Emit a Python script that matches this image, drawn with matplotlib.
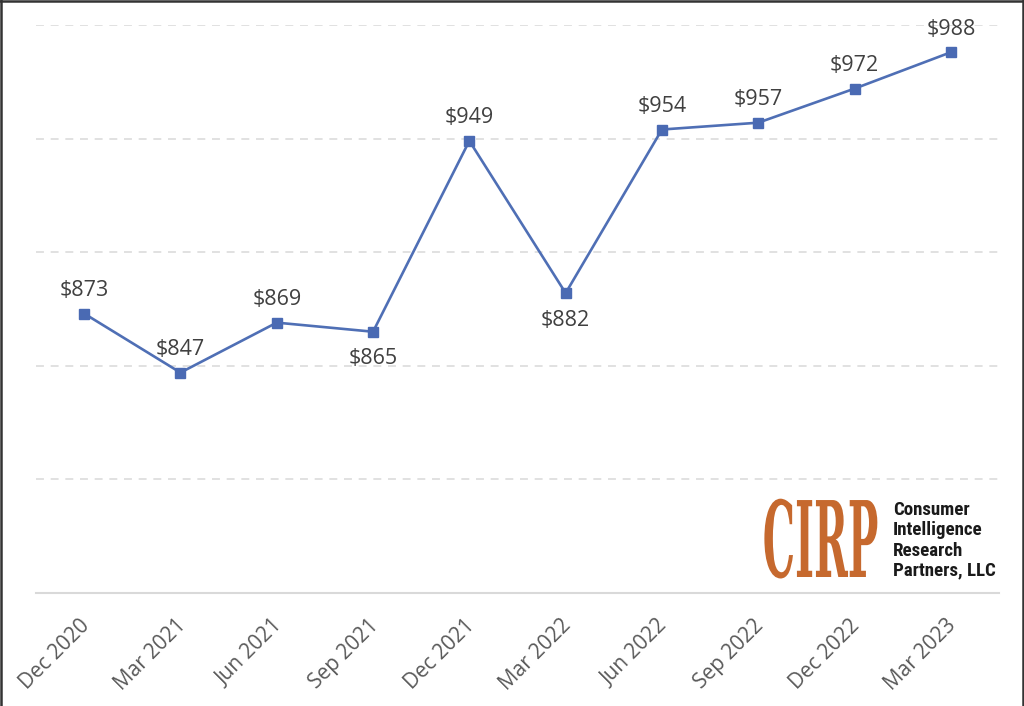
import matplotlib
matplotlib.use("Agg")
import matplotlib.pyplot as plt
from matplotlib.patheffects import AbstractPathEffect
from matplotlib.transforms import Affine2D, ScaledTranslation
from matplotlib.lines import Line2D

periods = ["Dec 2020", "Mar 2021", "Jun 2021", "Sep 2021", "Dec 2021",
           "Mar 2022", "Jun 2022", "Sep 2022", "Dec 2022", "Mar 2023"]
values = [873, 847, 869, 865, 949, 882, 954, 957, 972, 988]
label_below = [False, False, False, True, False, True, False, False, False, False]
grid_levels = [800, 850, 900, 950, 1000]
logo_lines = ["Consumer", "Intelligence", "Research", "Partners, LLC"]


class HStretchRight(AbstractPathEffect):
    """Squeeze glyphs horizontally, keeping their right edge fixed."""
    def __init__(self, sx):
        super().__init__()
        self.sx = sx

    def draw_path(self, renderer, gc, tpath, affine, rgbFace=None):
        xr = tpath.get_extents().x1
        t = Affine2D().translate(-xr, 0).scale(self.sx, 1).translate(xr, 0)
        renderer.draw_path(gc, tpath, t + affine, rgbFace)


W, H = 1024, 706
fig = plt.figure(figsize=(W / 100, H / 100), dpi=100)
fig.patch.set_facecolor("white")

ax = fig.add_axes([36 / W, (H - 593) / H, (999 - 36) / W, (593 - 25) / H])
ax.set_xlim(-0.5, len(periods) - 0.5)
ax.set_ylim(750, 1000)

for g in grid_levels:
    ax.axhline(g, color="#d9d9d9", lw=1.1, linestyle=(0, (5.2, 4.4)), zorder=1)

for s in ["top", "right", "left"]:
    ax.spines[s].set_visible(False)
ax.spines["bottom"].set_color("#d9d9d9")
ax.spines["bottom"].set_linewidth(1.5)

x = list(range(len(periods)))
ax.plot(x, values, color="#4f6fb5", lw=1.9, marker="s", markersize=7.5,
        markerfacecolor="#4a6ab3", markeredgecolor="#4a6ab3", zorder=3, clip_on=False)

for xi, v, below in zip(x, values, label_below):
    off = -27 if below else 23
    ax.annotate(f"${v}", (xi, v), xytext=(0, off), textcoords="offset pixels",
                ha="center", va="center", fontsize=15.5, color="#404040",
                family="Open Sans", annotation_clip=False)

ax.set_yticks([])
ax.set_xticks(x)
ax.set_xticklabels(periods, rotation=45, ha="right", rotation_mode="anchor",
                   fontsize=15, color="#595959", family="Open Sans")
ax.tick_params(axis="x", length=0, pad=16)
shift = ScaledTranslation(-5 / 100, 0, fig.dpi_scale_trans)
for lab in ax.get_xticklabels():
    lab.set_transform(lab.get_transform() + shift)

# Logo
fig.text(880 / W, 1 - 577 / H, "CIRP", fontsize=76, color="#c6692e",
         family="DejaVu Serif", fontweight="bold", ha="right", va="baseline",
         path_effects=[HStretchRight(0.385)])
for i, line in enumerate(logo_lines):
    fig.text(893 / W, 1 - (515 + i * 20.3) / H, line, fontsize=13.6, color="#1a1a1a",
             family=["Roboto Condensed", "Roboto", "DejaVu Sans"], fontweight="bold",
             ha="left", va="baseline")

# screenshot frame
fig.add_artist(Line2D([0.5 / W, 0.5 / W], [0, 1], color="#333333", lw=1.8, transform=fig.transFigure))
fig.add_artist(Line2D([0, 1], [1 - 1 / H, 1 - 1 / H], color="#333333", lw=1.8, transform=fig.transFigure))
fig.add_artist(Line2D([1022.5 / W, 1022.5 / W], [0, 1], color="#333333", lw=1.8, transform=fig.transFigure))

fig.savefig("out.png", dpi=100, facecolor="white")
